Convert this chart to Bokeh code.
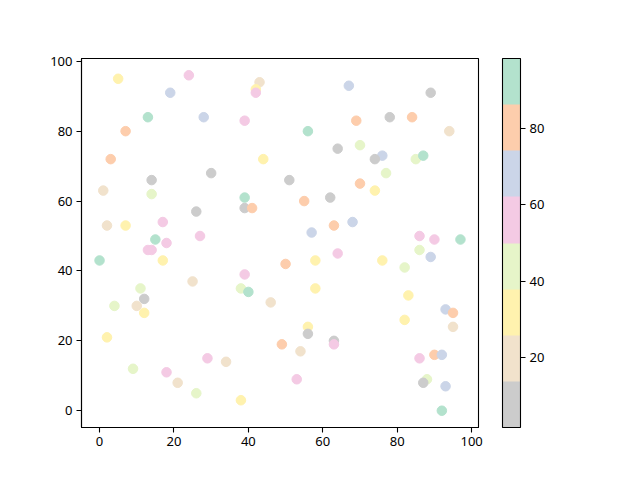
from bokeh.plotting import figure
from bokeh.models import LinearColorMapper, ColorBar, FixedTicker, Range1d, ColumnDataSource
from bokeh.palettes import Pastel2
from bokeh.embed import file_html
from bokeh.resources import INLINE

# ---- data ----
# colour levels (one value per colour band of the colour bar)
GRAY, BEIGE, YELLOW, LGREEN, PINK, BLUE, ORANGE, TEAL = 7, 20, 32, 44, 56, 68, 80, 92
C_LOW, C_HIGH = 1.5, 98.5

xs = [5, 24, 19, 13, 28, 7, 3, 30, 14, 43,
      42, 42, 67, 39, 56, 64, 44, 51, 69, 89,
      78, 84, 94, 70, 76, 74, 85, 87, 77, 1,
      14, 26, 2, 7, 17, 15, 18, 27, 13, 14,
      0, 17, 25, 11, 12, 4, 10, 39, 39, 41,
      55, 62, 63, 68, 57, 64, 58, 50, 39, 38,
      40, 58, 46, 70, 74, 86, 90, 97, 86, 89,
      76, 82, 83, 93, 12, 2, 29, 9, 18, 21,
      26, 34, 38, 56, 56, 49, 54, 63, 63, 53,
      95, 82, 95, 90, 92, 86, 88, 87, 93, 92]
ys = [95, 96, 91, 84, 84, 80, 72, 68, 66, 94,
      92, 91, 93, 83, 80, 75, 72, 66, 83, 91,
      84, 84, 80, 76, 73, 72, 72, 73, 68, 63,
      62, 57, 53, 53, 54, 49, 48, 50, 46, 46,
      43, 43, 37, 35, 32, 30, 30, 61, 58, 58,
      60, 61, 53, 54, 51, 45, 43, 42, 39, 35,
      34, 35, 31, 65, 63, 50, 49, 49, 46, 44,
      43, 41, 33, 29, 28, 21, 15, 12, 11, 8,
      5, 14, 3, 24, 22, 19, 17, 20, 19, 9,
      28, 26, 24, 16, 16, 15, 9, 8, 7, 0]
cs = [YELLOW, PINK, BLUE, TEAL, BLUE, ORANGE, ORANGE, GRAY, GRAY, BEIGE,
      YELLOW, PINK, BLUE, PINK, TEAL, GRAY, YELLOW, GRAY, ORANGE, GRAY,
      GRAY, ORANGE, BEIGE, LGREEN, BLUE, GRAY, LGREEN, TEAL, LGREEN, BEIGE,
      LGREEN, GRAY, BEIGE, YELLOW, PINK, TEAL, PINK, PINK, PINK, PINK,
      TEAL, YELLOW, BEIGE, LGREEN, GRAY, LGREEN, BEIGE, TEAL, GRAY, ORANGE,
      ORANGE, GRAY, ORANGE, BLUE, BLUE, PINK, YELLOW, ORANGE, PINK, LGREEN,
      TEAL, YELLOW, BEIGE, ORANGE, YELLOW, PINK, PINK, TEAL, LGREEN, BLUE,
      YELLOW, LGREEN, YELLOW, BLUE, YELLOW, YELLOW, PINK, LGREEN, PINK, BEIGE,
      LGREEN, BEIGE, YELLOW, YELLOW, GRAY, ORANGE, BEIGE, GRAY, PINK, PINK,
      ORANGE, YELLOW, BEIGE, ORANGE, BLUE, PINK, LGREEN, GRAY, BLUE, TEAL]

axis_ticks = [0, 20, 40, 60, 80, 100]
cbar_ticks = [20, 40, 60, 80]

FONT = "Noto Sans"
FS = "13px"

palette = list(reversed(Pastel2[8]))  # Pastel2_r
mapper = LinearColorMapper(palette=palette, low=C_LOW, high=C_HIGH)

def padded(vals, frac=0.05):
    lo, hi = min(vals), max(vals)
    d = (hi - lo) * frac
    return Range1d(lo - d, hi + d)

p = figure(frame_width=397, frame_height=369, width=580, height=464,
           x_range=padded(xs), y_range=padded(ys),
           output_backend="svg", toolbar_location=None,
           min_border_left=81, min_border_top=58, min_border_bottom=37,
           min_border_right=10)
p.grid.visible = False
p.outline_line_color = "black"
p.outline_line_width = 1.1
p.background_fill_color = "white"
p.border_fill_color = "white"

src = ColumnDataSource(dict(x=xs, y=ys, c=cs))
p.scatter("x", "y", source=src, size=9.5,
          fill_color={"field": "c", "transform": mapper},
          line_color={"field": "c", "transform": mapper})

for ax in (p.xaxis[0], p.yaxis[0]):
    ax.ticker = FixedTicker(ticks=axis_ticks)
    ax.minor_tick_line_color = None
    ax.major_tick_in = 0
    ax.major_tick_out = 5
    ax.axis_line_color = "black"
    ax.axis_line_width = 1.1
    ax.major_tick_line_width = 1.1
    ax.major_label_text_font = FONT
    ax.major_label_text_font_size = FS
    ax.major_label_text_color = "black"
    ax.major_label_standoff = 4

cb = ColorBar(color_mapper=mapper, width=18, height=369,
              ticker=FixedTicker(ticks=cbar_ticks),
              padding=0, margin=0, location=(24, 0),
              bar_line_color="black", bar_line_width=1.1,
              major_tick_in=0, major_tick_out=5,
              major_tick_line_color="black", major_tick_line_width=1.1,
              minor_tick_line_color=None,
              major_label_text_font=FONT, major_label_text_font_size=FS,
              major_label_text_color="black", label_standoff=4,
              background_fill_color=None, border_line_color=None)
p.add_layout(cb, "right")

open("out.html", "w").write(file_html(p, INLINE))
